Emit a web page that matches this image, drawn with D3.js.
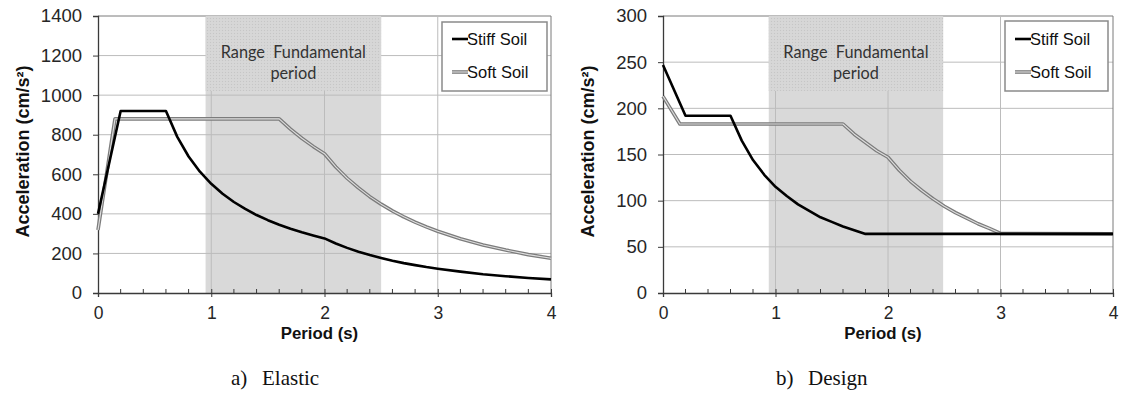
<!DOCTYPE html>
<html>
<head>
<meta charset="utf-8">
<script src="https://cdn.jsdelivr.net/npm/d3@7"></script>
<style>
  html, body { margin: 0; padding: 0; background: #fff; }
  svg { display: block; }
</style>
</head>
<body>
<svg id="chart" width="1125" height="400"></svg>
<script>
// ---------------- DATA ----------------
const periodTicks = [0, 1, 2, 3, 4];
const periodMinorTicks = [0.2, 0.4, 0.6, 0.8, 1.2, 1.4, 1.6, 1.8, 2.2, 2.4, 2.6, 2.8, 3.2, 3.4, 3.6, 3.8];
const elasticYTicks = [0, 200, 400, 600, 800, 1000, 1200, 1400];
const designYTicks = [0, 50, 100, 150, 200, 250, 300];
const seriesNames = ["Stiff Soil", "Soft Soil"];
const captions = [["a)", "Elastic"], ["b)", "Design"]];
const rangeLabel = ["Range  Fundamental", "period"];
const elasticRange = [0.95, 2.5];
const designRange = [0.94, 2.49];

// Elastic spectrum
const elasticStiffT = [0, 0.2, 0.6, 0.7, 0.8, 0.9, 1.0, 1.1, 1.2, 1.3, 1.4, 1.5, 1.6, 1.7, 1.8, 1.9, 2.0,
  2.1, 2.2, 2.3, 2.4, 2.5, 2.6, 2.7, 2.8, 2.9, 3.0, 3.2, 3.4, 3.6, 3.8, 4.0];
const elasticStiffA = [400, 920, 920, 789, 690, 613, 552, 502, 460, 425, 394, 368, 345, 325, 307, 291, 276,
  250, 228, 209, 192, 177, 163, 151, 141, 131, 123, 108, 95, 85, 76, 69];
const elasticSoftT = [0, 0.15, 1.6, 1.7, 1.8, 1.9, 2.0,
  2.1, 2.2, 2.3, 2.4, 2.5, 2.6, 2.7, 2.8, 2.9, 3.0, 3.2, 3.4, 3.6, 3.8, 4.0];
const elasticSoftA = [318, 880, 880, 828, 782, 741, 704,
  637, 580, 531, 487, 449, 415, 385, 358, 334, 312, 274, 243, 217, 194, 176];

// Design spectrum
const designStiffT = [0, 0.2, 0.6, 0.7, 0.8, 0.9, 1.0, 1.1, 1.2, 1.3, 1.4, 1.5, 1.6, 1.7, 1.8, 4.0];
const designStiffA = [247, 192, 192, 165, 144, 128, 115, 105, 96, 89, 82, 77, 72, 68, 64, 64];
const designSoftT = [0, 0.15, 1.6, 1.7, 1.8, 1.9, 2.0, 2.1, 2.2, 2.3, 2.4, 2.5, 2.6, 2.7, 2.8, 2.9, 3.0, 4.0];
const designSoftA = [213, 183, 183, 172, 163, 154, 147, 133, 121, 111, 102, 94, 87, 81, 75, 70, 64.5, 64];

// ---------------- DRAW ----------------
const svg = d3.select("#chart");
const defs = svg.append("defs");
const pat = defs.append("pattern").attr("id", "dots").attr("patternUnits", "userSpaceOnUse")
  .attr("width", 3).attr("height", 3);
pat.append("rect").attr("width", 3).attr("height", 3).attr("fill", "#d6d6d6");
pat.append("rect").attr("x", 0).attr("y", 0).attr("width", 1).attr("height", 1).attr("fill", "#c6c6c6");
pat.append("rect").attr("x", 1.5).attr("y", 1.5).attr("width", 1).attr("height", 1).attr("fill", "#dcdcdc");

const SANS = "'Liberation Sans', Arial, sans-serif";
const SERIF = "'Liberation Serif', 'DejaVu Serif', serif";

const charts = [
  { left: 98, right: 551, top: 16, bottom: 293, yMax: 1400, yTicks: elasticYTicks, range: elasticRange,
    stiff: [elasticStiffT, elasticStiffA], soft: [elasticSoftT, elasticSoftA],
    legend: { x0: 442, x1: 547, y0: 22, y1: 91 }, caption: captions[0], capX: [231, 262] },
  { left: 663, right: 1113, top: 16, bottom: 293, yMax: 300, yTicks: designYTicks, range: designRange,
    stiff: [designStiffT, designStiffA], soft: [designSoftT, designSoftA],
    legend: { x0: 1005, x1: 1108, y0: 21, y1: 91 }, caption: captions[1], capX: [776, 808] }
];

charts.forEach(c => {
  const x = d3.scaleLinear().domain([0, 4]).range([c.left, c.right]);
  const y = d3.scaleLinear().domain([0, c.yMax]).range([c.bottom, c.top]);
  const g = svg.append("g");

  // shaded range (lower part)
  g.append("rect")
    .attr("x", x(c.range[0])).attr("y", c.top)
    .attr("width", x(c.range[1]) - x(c.range[0])).attr("height", c.bottom - c.top)
    .attr("fill", "#d9d9d9");

  // gridlines
  g.append("g").selectAll("line").data(c.yTicks.filter(v => v > 0)).join("line")
    .attr("x1", c.left).attr("x2", c.right)
    .attr("y1", d => y(d)).attr("y2", d => y(d))
    .attr("stroke", d => d === c.yMax ? "#7a7a7a" : "#bcbcbc").attr("stroke-width", 1);
  g.append("g").selectAll("line").data(periodTicks.filter(v => v > 0)).join("line")
    .attr("x1", d => x(d)).attr("x2", d => x(d))
    .attr("y1", c.top).attr("y2", c.bottom)
    .attr("stroke", d => d === 4 ? "#7a7a7a" : "#bcbcbc").attr("stroke-width", 1);

  // text box with dotted fill
  const bx0 = x(c.range[0]), bx1 = x(c.range[1]);
  g.append("rect").attr("x", bx0).attr("y", c.top).attr("width", bx1 - bx0).attr("height", 75)
    .attr("fill", "url(#dots)");
  g.append("text").attr("x", (bx0 + bx1) / 2).attr("y", 57.5)
    .attr("text-anchor", "middle").attr("font-family", "Lato, 'Open Sans', sans-serif")
    .attr("font-size", 16.3).attr("fill", "#333").style("white-space", "pre").text(rangeLabel[0]);
  g.append("text").attr("x", (bx0 + bx1) / 2).attr("y", 78.5)
    .attr("text-anchor", "middle").attr("font-family", "Lato, 'Open Sans', sans-serif")
    .attr("font-size", 16.3).attr("fill", "#333").text(rangeLabel[1]);

  // axes
  const yAxis = d3.axisLeft(y).tickValues(c.yTicks).tickSize(5).tickPadding(11).tickFormat(d3.format("d"));
  const ya = g.append("g").attr("transform", `translate(${c.left},0)`).call(yAxis);
  ya.select(".domain").attr("stroke", "#3a3a3a").attr("stroke-width", 1.3);
  ya.selectAll(".tick line").attr("stroke", "#3a3a3a");
  ya.selectAll("text").attr("font-family", SANS).attr("font-size", 18.5).attr("fill", "#262626");

  const xAxis = d3.axisBottom(x).tickValues(periodTicks).tickSize(4).tickPadding(10).tickFormat(d3.format("d"));
  const xa = g.append("g").attr("transform", `translate(0,${c.bottom})`).call(xAxis);
  xa.select(".domain").attr("stroke", "#3a3a3a").attr("stroke-width", 1.3);
  xa.selectAll(".tick line").attr("stroke", "#3a3a3a").attr("y1", -4);
  xa.selectAll("text").attr("font-family", SANS).attr("font-size", 17.5).attr("fill", "#262626");
  g.append("g").selectAll("line").data(periodMinorTicks).join("line")
    .attr("x1", d => x(d)).attr("x2", d => x(d))
    .attr("y1", c.bottom).attr("y2", c.bottom - 4)
    .attr("stroke", "#3a3a3a").attr("stroke-width", 1);

  // axis titles
  g.append("text").attr("transform", `translate(${c.left - 75},${(c.top + c.bottom) / 2 - 3}) rotate(-90)`)
    .attr("text-anchor", "middle").attr("dy", "0.35em")
    .attr("font-family", SANS).attr("font-weight", "bold")
    .attr("font-size", 18).attr("fill", "#111").text("Acceleration (cm/s²)");
  g.append("text").attr("x", (c.left + c.right) / 2 - 5).attr("y", 339)
    .attr("text-anchor", "middle")
    .attr("font-family", SANS).attr("font-weight", "bold")
    .attr("font-size", 16.8).attr("fill", "#111").text("Period (s)");

  // lines
  const line = d3.line().x(d => x(d[0])).y(d => y(d[1]));
  const softPts = d3.zip(c.soft[0], c.soft[1]);
  const stiffPts = d3.zip(c.stiff[0], c.stiff[1]);
  g.append("path").attr("d", line(softPts)).attr("fill", "none")
    .attr("stroke", "#7c7c7c").attr("stroke-width", 3.6).attr("stroke-linejoin", "round");
  g.append("path").attr("d", line(softPts)).attr("fill", "none")
    .attr("stroke", "#dedede").attr("stroke-width", 1.1).attr("stroke-linejoin", "round");
  g.append("path").attr("d", line(stiffPts)).attr("fill", "none")
    .attr("stroke", "#000").attr("stroke-width", 2.6).attr("stroke-linejoin", "round");

  // legend
  const L = c.legend;
  g.append("rect").attr("x", L.x0).attr("y", L.y0).attr("width", L.x1 - L.x0).attr("height", L.y1 - L.y0)
    .attr("fill", "#fff").attr("stroke", "#8a8a8a").attr("stroke-width", 1.5);
  const ly = [39, 72];
  seriesNames.forEach((name, i) => {
    const yy = ly[i];
    if (i === 0) {
      g.append("line").attr("x1", L.x0 + 10).attr("x2", L.x0 + 26).attr("y1", yy).attr("y2", yy)
        .attr("stroke", "#000").attr("stroke-width", 2.6);
    } else {
      g.append("line").attr("x1", L.x0 + 10).attr("x2", L.x0 + 26).attr("y1", yy).attr("y2", yy)
        .attr("stroke", "#7c7c7c").attr("stroke-width", 3.6);
      g.append("line").attr("x1", L.x0 + 10).attr("x2", L.x0 + 26).attr("y1", yy).attr("y2", yy)
        .attr("stroke", "#dedede").attr("stroke-width", 1.1);
    }
    g.append("text").attr("x", L.x0 + 25).attr("y", yy).attr("dy", "0.35em")
      .attr("font-family", SANS).attr("font-size", 16.5).attr("fill", "#111").text(name);
  });

  // caption
  g.append("text").attr("x", c.capX[0]).attr("y", 385)
    .attr("font-family", SERIF).attr("font-size", 21).attr("fill", "#111").text(c.caption[0]);
  g.append("text").attr("x", c.capX[1]).attr("y", 385)
    .attr("font-family", SERIF).attr("font-size", 21).attr("fill", "#111").text(c.caption[1]);
});
</script>
</body>
</html>
